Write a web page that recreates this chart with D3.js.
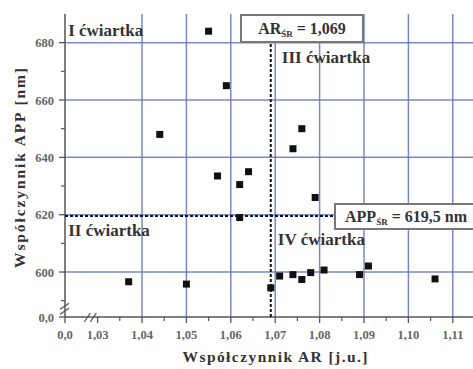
<!DOCTYPE html>
<html><head><meta charset="utf-8">
<script src="https://cdn.jsdelivr.net/npm/d3@7"></script>
<style>body{margin:0;background:#fff}svg{display:block}
svg text{font-family:"Liberation Serif","Times New Roman",Tinos,serif;}
</style>
</head><body>
<script>
// Data
const arValues  = [1.055, 1.059, 1.044, 1.057, 1.062, 1.064, 1.074, 1.076, 1.079, 1.062, 1.069, 1.071, 1.074, 1.076, 1.078, 1.081, 1.089, 1.091, 1.106, 1.037, 1.050];
const appValues = [684, 665, 648, 633.5, 630.5, 635, 643, 650, 626, 619, 594.5, 598.6, 599.1, 597.4, 599.8, 600.7, 599.1, 602.1, 597.6, 596.6, 595.8];
const xTicks = [1.03, 1.04, 1.05, 1.06, 1.07, 1.08, 1.09, 1.10, 1.11];
const xMinor = [1.035, 1.045, 1.055, 1.065, 1.075, 1.085, 1.095, 1.105];
const yTicks = [600, 620, 640, 660, 680];
const yMinor = [590, 610, 630, 650, 670];
const arMean = 1.069, appMean = 619.5;
const quadrants = [
  {label: "I ćwiartka", ar: 0.1, app: 682.5},
  {label: "III ćwiartka", ar: 1.0715, app: 673},
  {label: "II ćwiartka", ar: 0.1, app: 612.7},
  {label: "IV ćwiartka", ar: 1.0706, app: 609.4}
];

const W = 473, H = 369;
const svg = d3.select("body").append("svg").attr("width", W).attr("height", H);

// piecewise scales (axis break)
const x = d3.scaleLinear().domain([0, 1.03, 1.115]).range([65, 97.6, 475]);
const y = d3.scaleLinear().domain([0, 590, 690]).range([317, 300.7, 14]);

const fmt = v => d3.format(".2f")(v).replace(".", ",");
const grid = "#6475b8";

// grid
svg.append("g").selectAll("line").data(xTicks.filter(d => d >= 1.04)).join("line")
  .attr("x1", d => x(d)).attr("x2", d => x(d)).attr("y1", y(690)).attr("y2", y(0))
  .attr("stroke", grid).attr("stroke-width", 1.5).attr("opacity", 0.85);
svg.append("g").selectAll("line").data(yTicks).join("line")
  .attr("x1", x(0)).attr("x2", W).attr("y1", d => y(d)).attr("y2", d => y(d))
  .attr("stroke", grid).attr("stroke-width", 1.5).attr("opacity", 0.85);

// axes
const axCol = "#555";
svg.append("line").attr("x1", x(0)).attr("x2", x(0)).attr("y1", y(690)).attr("y2", y(0))
  .attr("stroke", axCol).attr("stroke-width", 1.5);
svg.append("line").attr("x1", x(0)).attr("x2", W).attr("y1", y(0)).attr("y2", y(0))
  .attr("stroke", axCol).attr("stroke-width", 1.5);

// y ticks
svg.append("g").selectAll("line").data([0, ...yTicks]).join("line")
  .attr("x1", x(0) - 6).attr("x2", x(0)).attr("y1", d => y(d)).attr("y2", d => y(d))
  .attr("stroke", axCol).attr("stroke-width", 1.3);
svg.append("g").selectAll("line").data(yMinor).join("line")
  .attr("x1", x(0) - 4).attr("x2", x(0)).attr("y1", d => y(d)).attr("y2", d => y(d))
  .attr("stroke", axCol).attr("stroke-width", 1.2);
svg.append("g").selectAll("text").data([0, ...yTicks]).join("text")
  .attr("x", x(0) - 11).attr("y", d => y(d) + 4.5).attr("text-anchor", "end")
  .attr("font-size", 12.5).attr("font-weight", "bold").attr("fill", "#666")
  .text(d => d === 0 ? "0,0" : d);

// x ticks
svg.append("g").selectAll("line").data([0, ...xTicks]).join("line")
  .attr("x1", d => x(d)).attr("x2", d => x(d)).attr("y1", y(0)).attr("y2", y(0) + 6)
  .attr("stroke", axCol).attr("stroke-width", 1.3);
svg.append("g").selectAll("line").data(xMinor).join("line")
  .attr("x1", d => x(d)).attr("x2", d => x(d)).attr("y1", y(0)).attr("y2", y(0) + 4)
  .attr("stroke", axCol).attr("stroke-width", 1.2);
svg.append("g").selectAll("text").data([0, ...xTicks]).join("text")
  .attr("x", d => x(d)).attr("y", y(0) + 22).attr("text-anchor", "middle")
  .attr("font-size", 12.5).attr("font-weight", "bold").attr("fill", "#666")
  .text(d => d === 0 ? "0,0" : fmt(d));

// axis breaks
const yb = y(300);
const brk = svg.append("g").attr("stroke", axCol).attr("stroke-width", 1.3).attr("fill", "none");
[-2.5, 2.5].forEach(o => {
  brk.append("line").attr("x1", x(0) - 5).attr("x2", x(0) + 4).attr("y1", yb + o + 3).attr("y2", yb + o - 3);
});
const xb = x(0.8);
[-3, 3].forEach(o => {
  brk.append("line").attr("x1", xb + o - 3).attr("x2", xb + o + 3).attr("y1", y(0) + 5).attr("y2", y(0) - 4);
});

// mean lines
svg.append("line").attr("x1", x(arMean)).attr("x2", x(arMean)).attr("y1", y(690)).attr("y2", y(0))
  .attr("stroke", "#111").attr("stroke-width", 2).attr("stroke-dasharray", "3,2");
svg.append("line").attr("x1", x(0)).attr("x2", W).attr("y1", y(appMean)).attr("y2", y(appMean))
  .attr("stroke", "#111").attr("stroke-width", 2).attr("stroke-dasharray", "3,2");

// points
svg.append("g").selectAll("rect").data(arValues.map((a, i) => [a, appValues[i]])).join("rect")
  .attr("x", d => x(d[0]) - 3.5).attr("y", d => y(d[1]) - 3.5)
  .attr("width", 7).attr("height", 7).attr("fill", "#111");

// quadrant labels
svg.append("g").selectAll("text").data(quadrants).join("text")
  .attr("x", d => x(d.ar)).attr("y", d => y(d.app))
  .attr("font-size", 17).attr("font-weight", "bold").attr("fill", "#333")
  .text(d => d.label);

// boxes
function box(bx, by, bw, bh, main, sub, rest) {
  svg.append("rect").attr("x", bx).attr("y", by).attr("width", bw).attr("height", bh)
    .attr("fill", "#fff").attr("stroke", "#777").attr("stroke-width", 2);
  const t = svg.append("text").attr("x", bx + bw / 2).attr("y", by + bh / 2 + 5.5).attr("text-anchor", "middle")
    .attr("font-weight", "bold").attr("font-size", 16).attr("fill", "#333");
  t.append("tspan").text(main);
  t.append("tspan").attr("font-size", 9).attr("dy", 3).text(sub);
  t.append("tspan").attr("dy", -3).text(rest);
}
box(241, 15, 122, 27, "AR", "ŚR", " = 1,069");
box(335, 204, 142, 25, "APP", "ŚR", " = 619,5 nm");

// axis titles
svg.append("text").attr("x", 275).attr("y", 362).attr("text-anchor", "middle")
  .attr("font-weight", "bold").attr("font-size", 15.5)
  .attr("textLength", 185).attr("lengthAdjust", "spacing")
  .attr("fill", "#333").text("Współczynnik AR [j.u.]");
svg.append("text").attr("transform", "translate(25,168) rotate(-90)").attr("text-anchor", "middle")
  .attr("font-weight", "bold").attr("font-size", 15.5)
  .attr("textLength", 200).attr("lengthAdjust", "spacing")
  .attr("fill", "#333").text("Współczynnik APP [nm]");
</script>
</body></html>
